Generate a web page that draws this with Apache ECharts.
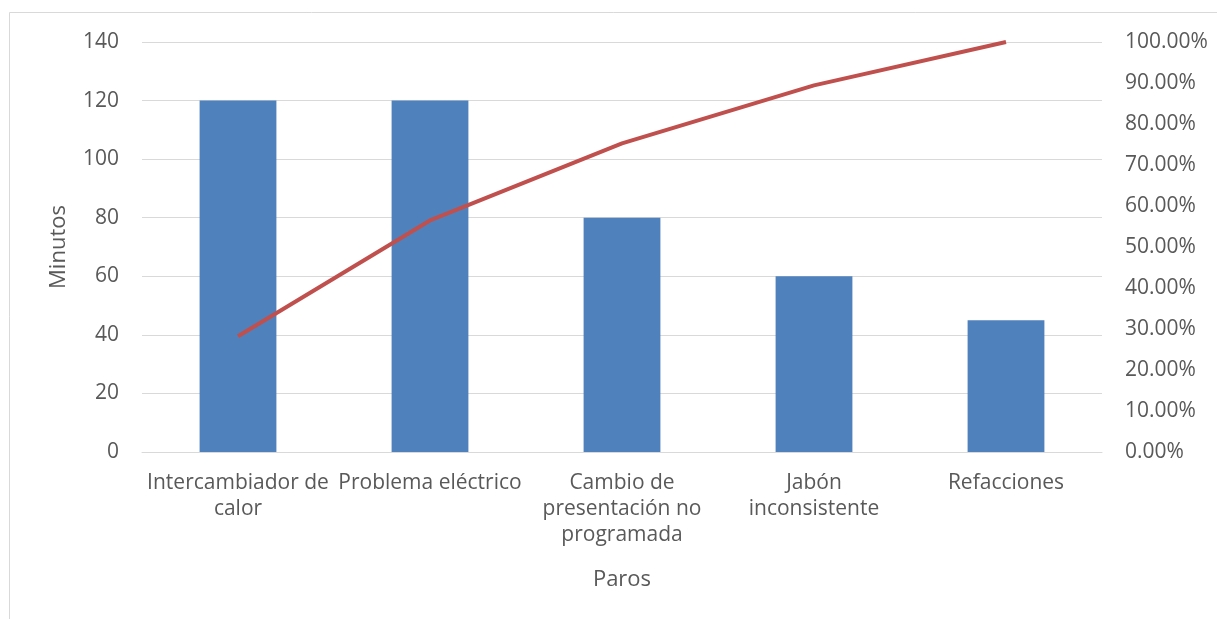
<!DOCTYPE html>
<html>
<head>
<meta charset="utf-8">
<script src="https://cdn.jsdelivr.net/npm/echarts@6/dist/echarts.min.js"></script>
<style>
  html, body { margin: 0; padding: 0; background: #fff; }
  #chart { width: 1217px; height: 619px; }
</style>
</head>
<body>
<div id="chart"></div>
<script>
// Pareto de paros: minutos por causa y porcentaje acumulado
const categories = [
  'Intercambiador de\ncalor',
  'Problema eléctrico',
  'Cambio de\npresentación no\nprogramada',
  'Jabón\ninconsistente',
  'Refacciones'
];
const minutos = [120, 120, 80, 60, 45];
const acumulado = [0.2824, 0.5647, 0.7529, 0.8941, 1.0];

const textColor = '#595959';
const gridColor = '#d9d9d9';
const fontFamily = '"Open Sans", Lato, sans-serif';

const chart = echarts.init(document.getElementById('chart'), null, { renderer: 'canvas' });

chart.setOption({
  animation: false,
  backgroundColor: '#fff',
  textStyle: { fontFamily: fontFamily, color: textColor },
  graphic: [{
    type: 'rect',
    shape: { x: 9.5, y: 12.5, width: 1220, height: 620 },
    style: { fill: 'none', stroke: '#d9d9d9', lineWidth: 1 },
    silent: true
  }],
  grid: { left: 142, right: 115, top: 42, bottom: 167 },
  xAxis: {
    type: 'category',
    data: categories,
    name: 'Paros',
    nameLocation: 'middle',
    nameGap: 117,
    nameTextStyle: { fontSize: 22, color: textColor, fontFamily: fontFamily },
    axisLine: { lineStyle: { color: gridColor, width: 1 } },
    axisTick: { show: false },
    axisLabel: {
      interval: 0,
      color: textColor,
      fontSize: 21,
      lineHeight: 26,
      margin: 18,
      fontFamily: fontFamily
    }
  },
  yAxis: [{
    type: 'value',
    min: 0,
    max: 140,
    interval: 20,
    name: 'Minutos',
    nameLocation: 'middle',
    nameGap: 72,
    nameRotate: 90,
    nameTextStyle: { fontSize: 22, color: textColor, fontFamily: fontFamily },
    axisLine: { show: false },
    axisTick: { show: false },
    axisLabel: { color: textColor, fontSize: 21, margin: 23, fontFamily: fontFamily },
    splitLine: { lineStyle: { color: gridColor, width: 1 } }
  }, {
    type: 'value',
    min: 0,
    max: 1,
    interval: 0.1,
    position: 'right',
    axisLine: { show: false },
    axisTick: { show: false },
    splitLine: { show: false },
    axisLabel: {
      color: textColor,
      fontSize: 21,
      margin: 23,
      fontFamily: fontFamily,
      formatter: v => (v * 100).toFixed(2) + '%'
    }
  }],
  series: [{
    type: 'bar',
    data: minutos,
    yAxisIndex: 0,
    barWidth: '40%',
    itemStyle: { color: '#4f81bd' }
  }, {
    type: 'line',
    data: acumulado,
    yAxisIndex: 1,
    symbol: 'none',
    lineStyle: { color: '#c0504d', width: 4 },
    z: 5
  }]
});
</script>
</body>
</html>
